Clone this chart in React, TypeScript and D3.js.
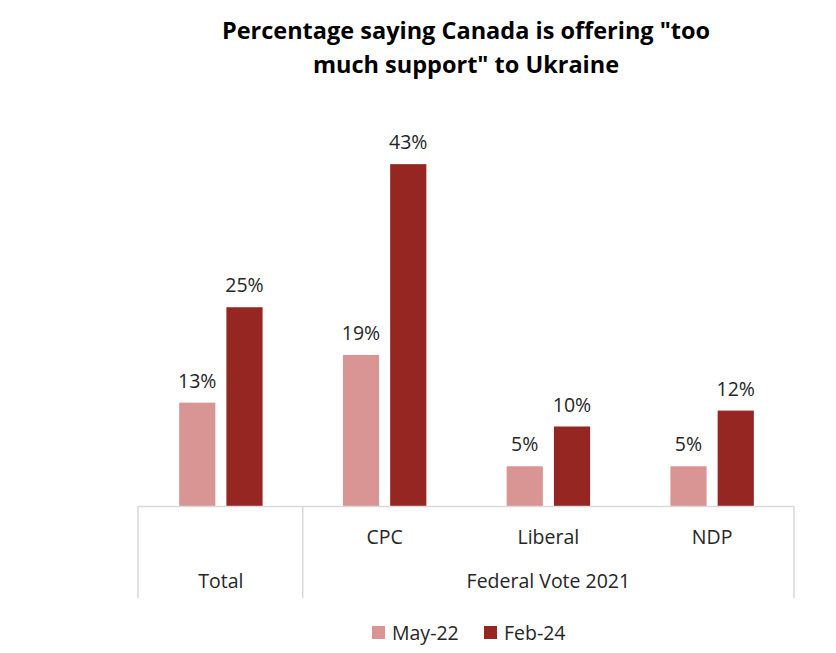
import React from "react";
import * as d3 from "d3";

const categories = ["Total", "CPC", "Liberal", "NDP"];
const subLabels = ["", "CPC", "Liberal", "NDP"];
const seriesNames = ["May-22", "Feb-24"];
const may22 = [13, 19, 5, 5];
const feb24 = [25, 43, 10, 12];
const colors = ["#d99594", "#962622"];
const titleLines = ['Percentage saying Canada is offering "too', 'much support" to Ukraine'];

export default function App() {
  const W = 836, H = 653;
  const left = 139, right = 794, base = 506;
  const x0 = d3.scaleBand().domain(categories).range([left, right]);
  const x1 = d3.scaleBand().domain(seriesNames).range([0, x0.bandwidth()]).paddingInner(0.234).paddingOuter(0.85);
  const y = d3.scaleLinear().domain([0, 50]).range([base, base - 397.5]);
  const series = [may22, feb24];
  const font = "'Open Sans', Lato, sans-serif";
  const axisColor = "#d9d9d9";
  const fedStart = x0("CPC")!;
  const fs = 19.5;
  return (
    <svg width={W} height={H} style={{ position: "absolute", left: 0, top: 0, background: "#fff" }}>
      <rect width={W} height={H} fill="#fff" />
      {titleLines.map((t, i) => (
        <text key={i} x={466} y={39 + i * 34} textAnchor="middle" fontFamily={font} fontWeight="bold" fontSize={23.5} fill="#000">{t}</text>
      ))}
      {categories.map((c, ci) => (
        <g key={c}>
          {seriesNames.map((s, si) => {
            const v = series[si][ci];
            const bx = x0(c)! + x1(s)!;
            return (
              <g key={s}>
                <rect x={bx} y={y(v)} width={x1.bandwidth()} height={base - y(v)} fill={colors[si]} />
                <text x={bx + x1.bandwidth() / 2} y={y(v) - 15} textAnchor="middle" fontFamily={font} fontSize={fs} fill="#262626">{v}%</text>
              </g>
            );
          })}
          {subLabels[ci] && (
            <text x={x0(c)! + x0.bandwidth() / 2} y={544} textAnchor="middle" fontFamily={font} fontSize={fs} fill="#262626">{subLabels[ci]}</text>
          )}
        </g>
      ))}
      <line x1={left - 1} x2={right} y1={base + 0.5} y2={base + 0.5} stroke={axisColor} strokeWidth={1.5} />
      {[left - 1, fedStart, right].map((xv, i) => (
        <line key={i} x1={xv} x2={xv} y1={base} y2={598} stroke={axisColor} strokeWidth={1.5} />
      ))}
      <text x={x0("Total")! + x0.bandwidth() / 2} y={588} textAnchor="middle" fontFamily={font} fontSize={fs} fill="#262626">Total</text>
      <text x={(fedStart + right) / 2} y={588} textAnchor="middle" fontFamily={font} fontSize={fs} fill="#262626">Federal Vote 2021</text>
      {seriesNames.map((s, i) => {
        const lx = [372, 484][i];
        return (
          <g key={s}>
            <rect x={lx} y={626} width={13} height={13} fill={colors[i]} />
            <text x={lx + 20} y={640} fontFamily={font} fontSize={fs} fill="#262626">{s}</text>
          </g>
        );
      })}
    </svg>
  );
}
